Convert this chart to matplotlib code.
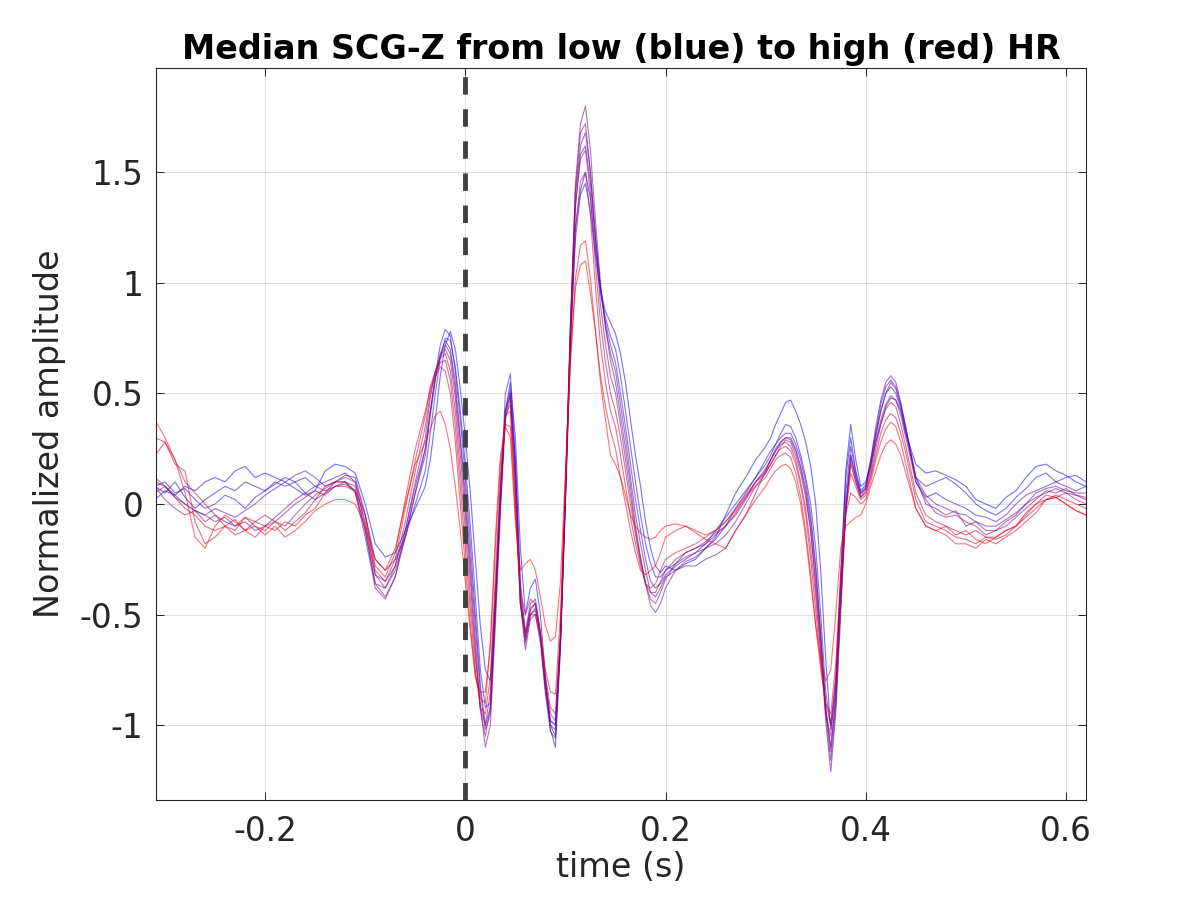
import matplotlib
matplotlib.use("Agg")
import matplotlib.pyplot as plt

# ==========================
# Time axis (s)
# ==========================

t_pre = [-0.31, -0.30, -0.29, -0.28, -0.27, -0.26, -0.25, -0.24, -0.23, -0.22,
         -0.21, -0.20, -0.19, -0.18, -0.17, -0.16, -0.15, -0.14, -0.13, -0.12,
         -0.11, -0.10, -0.09, -0.08, -0.07, -0.06, -0.05]
t_beat = [-0.04, -0.035, -0.03, -0.025, -0.02, -0.015, -0.01, -0.005, 0.0, 0.005,
          0.01, 0.015, 0.02, 0.025, 0.03, 0.035, 0.04, 0.045, 0.05, 0.055,
          0.06, 0.065, 0.07, 0.075, 0.08, 0.085, 0.09, 0.095, 0.10, 0.105,
          0.11, 0.115, 0.12, 0.125, 0.13, 0.135, 0.14, 0.145, 0.15, 0.155,
          0.16, 0.165, 0.17, 0.175, 0.18, 0.185, 0.19, 0.195, 0.20]
t_mid = [0.21, 0.22, 0.23, 0.24, 0.25, 0.26, 0.27, 0.28, 0.29, 0.30]
t_late = [0.305, 0.31, 0.315, 0.32, 0.325, 0.33, 0.335, 0.34, 0.345, 0.35,
          0.355, 0.36, 0.365, 0.37, 0.375, 0.38, 0.385, 0.39, 0.395, 0.40,
          0.405, 0.41, 0.415, 0.42, 0.425, 0.43, 0.435, 0.44]
t_tail = [0.45, 0.46, 0.47, 0.48, 0.49, 0.50, 0.51, 0.52, 0.53, 0.54,
          0.55, 0.56, 0.57, 0.58, 0.59, 0.60, 0.61, 0.62]

time_s = t_pre + t_beat + t_mid + t_late + t_tail

# ==========================
# Median SCG-Z beats, low HR -> high HR
# ==========================

scg_01 = [0.02, 0.06, 0.04, 0.08, 0.06, 0.10, 0.12, 0.10, 0.15, 0.17,
          0.12, 0.14, 0.12, 0.10, 0.07, 0.04, 0.06, 0.15, 0.18, 0.17,
          0.14, 0.00, -0.18, -0.24, -0.22, -0.12, -0.02,
          0.08, 0.20, 0.38, 0.58, 0.72, 0.78, 0.70, 0.52, 0.30, 0.05,
          -0.25, -0.55, -0.75, -0.80, -0.40, 0.05, 0.42, 0.55, 0.30, -0.20,
          -0.50, -0.38, -0.34, -0.50, -0.78, -1.02, -1.10, -0.65, 0.00, 0.70,
          1.25, 1.42, 1.50, 1.38, 1.15, 0.97, 0.87, 0.82, 0.77, 0.68,
          0.55, 0.38, 0.22, 0.08, -0.08, -0.20, -0.28, -0.31, -0.28,
          -0.30, -0.27, -0.25, -0.20, -0.15, -0.05, 0.05, 0.12, 0.20, 0.26,
          0.30, 0.36, 0.41, 0.46, 0.47, 0.42, 0.36, 0.28, 0.17, 0.00,
          -0.30, -0.70, -1.02, -0.85, -0.35, 0.15, 0.36, 0.20, 0.08, 0.10,
          0.18, 0.28, 0.36, 0.44, 0.48, 0.47, 0.42, 0.32,
          0.18, 0.14, 0.15, 0.13, 0.11, 0.08, 0.02, 0.00, -0.02, 0.03,
          0.06, 0.12, 0.17, 0.18, 0.15, 0.13, 0.10, 0.08]

scg_02 = [0.08, 0.05, 0.10, 0.03, -0.02, 0.02, 0.05, 0.08, 0.06, 0.10,
          0.08, 0.06, 0.09, 0.12, 0.10, 0.05, 0.02, 0.05, 0.10, 0.13,
          0.12, -0.05, -0.25, -0.30, -0.25, -0.15, 0.00,
          0.15, 0.32, 0.50, 0.66, 0.75, 0.74, 0.62, 0.42, 0.18, -0.10,
          -0.42, -0.75, -0.92, -0.90, -0.45, 0.02, 0.40, 0.50, 0.20, -0.35,
          -0.58, -0.45, -0.43, -0.58, -0.82, -1.00, -1.05, -0.62, 0.02, 0.72,
          1.20, 1.40, 1.45, 1.32, 1.12, 0.95, 0.84, 0.76, 0.70, 0.58,
          0.42, 0.26, 0.10, -0.05, -0.18, -0.27, -0.33, -0.33, -0.30,
          -0.27, -0.22, -0.20, -0.18, -0.12, -0.06, 0.00, 0.06, 0.12, 0.18,
          0.22, 0.27, 0.32, 0.36, 0.35, 0.30, 0.22, 0.12, 0.00, -0.20,
          -0.50, -0.85, -1.00, -0.80, -0.30, 0.12, 0.30, 0.15, 0.06, 0.09,
          0.20, 0.32, 0.42, 0.50, 0.53, 0.50, 0.43, 0.32,
          0.12, 0.08, 0.10, 0.12, 0.09, 0.05, 0.00, -0.03, -0.05, -0.02,
          0.03, 0.07, 0.12, 0.14, 0.10, 0.12, 0.13, 0.10]

scg_03 = [0.08, 0.10, 0.05, 0.07, 0.02, -0.02, 0.00, 0.04, 0.02, -0.02,
          0.03, 0.06, 0.10, 0.08, 0.10, 0.12, 0.08, 0.10, 0.12, 0.14,
          0.10, -0.10, -0.32, -0.35, -0.28, -0.12, 0.08,
          0.25, 0.42, 0.58, 0.72, 0.79, 0.76, 0.60, 0.38, 0.12, -0.18,
          -0.50, -0.82, -1.00, -0.92, -0.45, 0.05, 0.50, 0.59, 0.20, -0.40,
          -0.60, -0.48, -0.45, -0.60, -0.82, -0.98, -1.00, -0.60, 0.05, 0.78,
          1.35, 1.58, 1.62, 1.45, 1.20, 0.98, 0.82, 0.72, 0.64, 0.50,
          0.35, 0.18, 0.02, -0.12, -0.25, -0.35, -0.38, -0.36, -0.32,
          -0.28, -0.25, -0.22, -0.18, -0.14, -0.10, -0.02, 0.05, 0.12, 0.20,
          0.24, 0.27, 0.30, 0.32, 0.32, 0.27, 0.20, 0.10, -0.05, -0.28,
          -0.58, -0.92, -1.10, -0.88, -0.38, 0.05, 0.26, 0.14, 0.05, 0.07,
          0.18, 0.32, 0.45, 0.53, 0.56, 0.53, 0.45, 0.34,
          0.10, 0.03, 0.05, 0.02, 0.00, -0.02, -0.05, -0.06, -0.08, -0.05,
          0.00, 0.04, 0.06, 0.08, 0.10, 0.08, 0.06, 0.08]

scg_04 = [0.10, 0.08, 0.04, 0.00, -0.03, -0.05, -0.02, -0.04, -0.06, -0.03,
          0.00, 0.04, 0.07, 0.10, 0.13, 0.15, 0.12, 0.08, 0.10, 0.10,
          0.06, -0.12, -0.36, -0.38, -0.30, -0.15, 0.05,
          0.22, 0.40, 0.56, 0.68, 0.74, 0.70, 0.55, 0.30, 0.05, -0.25,
          -0.55, -0.85, -1.02, -0.95, -0.50, 0.00, 0.42, 0.52, 0.15, -0.42,
          -0.62, -0.50, -0.47, -0.60, -0.84, -1.00, -1.02, -0.62, 0.05, 0.80,
          1.40, 1.62, 1.68, 1.50, 1.22, 0.98, 0.80, 0.68, 0.60, 0.45,
          0.30, 0.12, -0.05, -0.18, -0.30, -0.40, -0.42, -0.38, -0.33,
          -0.30, -0.26, -0.24, -0.20, -0.16, -0.10, -0.05, 0.02, 0.10, 0.16,
          0.20, 0.25, 0.28, 0.30, 0.30, 0.25, 0.17, 0.07, -0.08, -0.30,
          -0.60, -0.95, -1.16, -0.92, -0.45, 0.00, 0.22, 0.12, 0.05, 0.08,
          0.20, 0.35, 0.47, 0.55, 0.58, 0.55, 0.46, 0.35,
          0.12, 0.04, 0.00, -0.02, -0.04, -0.05, -0.08, -0.10, -0.10, -0.07,
          -0.04, 0.00, 0.05, 0.07, 0.08, 0.06, 0.05, 0.05]

scg_05 = [0.05, 0.08, 0.03, 0.00, -0.03, -0.05, -0.08, -0.06, -0.10, -0.08,
          -0.12, -0.10, -0.06, -0.02, 0.02, 0.05, 0.08, 0.06, 0.08, 0.10,
          0.05, -0.15, -0.38, -0.43, -0.33, -0.15, 0.05,
          0.25, 0.42, 0.57, 0.67, 0.72, 0.68, 0.52, 0.28, 0.00, -0.30,
          -0.62, -0.92, -1.10, -1.00, -0.55, -0.05, 0.38, 0.48, 0.10, -0.45,
          -0.66, -0.52, -0.50, -0.63, -0.86, -1.03, -1.06, -0.65, 0.02, 0.80,
          1.45, 1.72, 1.80, 1.60, 1.28, 1.00, 0.80, 0.65, 0.55, 0.40,
          0.25, 0.08, -0.10, -0.24, -0.36, -0.46, -0.49, -0.45, -0.38,
          -0.30, -0.28, -0.28, -0.25, -0.23, -0.20, -0.12, -0.05, 0.05, 0.15,
          0.20, 0.24, 0.28, 0.30, 0.29, 0.24, 0.16, 0.05, -0.12, -0.38,
          -0.65, -0.98, -1.21, -0.95, -0.50, -0.05, 0.22, 0.12, 0.04, 0.07,
          0.17, 0.30, 0.42, 0.50, 0.55, 0.52, 0.44, 0.34,
          0.12, 0.00, -0.02, -0.05, -0.03, -0.10, -0.08, -0.12, -0.12, -0.08,
          -0.05, 0.00, 0.03, 0.05, 0.07, 0.05, 0.04, 0.02]

scg_06 = [0.08, 0.02, -0.02, -0.05, -0.03, -0.08, -0.05, -0.10, -0.07, -0.12,
          -0.08, -0.05, -0.08, -0.04, 0.00, 0.03, 0.06, 0.04, 0.08, 0.09,
          0.06, -0.12, -0.36, -0.42, -0.33, -0.12, 0.10,
          0.30, 0.48, 0.60, 0.67, 0.70, 0.65, 0.48, 0.22, -0.05, -0.35,
          -0.66, -0.93, -1.05, -0.92, -0.48, 0.00, 0.42, 0.50, 0.10, -0.45,
          -0.63, -0.50, -0.48, -0.60, -0.82, -0.98, -1.00, -0.62, 0.05, 0.82,
          1.42, 1.68, 1.72, 1.50, 1.18, 0.90, 0.72, 0.58, 0.50, 0.36,
          0.20, 0.04, -0.12, -0.25, -0.36, -0.43, -0.45, -0.40, -0.34,
          -0.27, -0.24, -0.22, -0.20, -0.18, -0.14, -0.08, 0.00, 0.08, 0.14,
          0.18, 0.22, 0.26, 0.29, 0.28, 0.22, 0.14, 0.03, -0.12, -0.35,
          -0.62, -0.92, -1.12, -0.88, -0.45, -0.02, 0.20, 0.10, 0.03, 0.06,
          0.15, 0.28, 0.38, 0.45, 0.49, 0.47, 0.40, 0.30,
          0.10, 0.02, -0.04, -0.06, -0.05, -0.08, -0.10, -0.14, -0.12, -0.10,
          -0.06, -0.02, 0.02, 0.06, 0.05, 0.07, 0.04, 0.03]

scg_07 = [0.22, 0.28, 0.20, 0.10, 0.05, 0.00, -0.05, -0.08, -0.10, -0.06,
          -0.10, -0.12, -0.08, -0.10, -0.05, 0.00, 0.04, 0.07, 0.10, 0.10,
          0.08, -0.08, -0.32, -0.38, -0.28, -0.08, 0.15,
          0.35, 0.50, 0.60, 0.66, 0.68, 0.60, 0.42, 0.15, -0.12, -0.42,
          -0.70, -0.92, -1.00, -0.85, -0.40, 0.05, 0.40, 0.45, 0.05, -0.45,
          -0.60, -0.47, -0.45, -0.58, -0.80, -0.95, -0.98, -0.60, 0.05, 0.78,
          1.35, 1.56, 1.60, 1.40, 1.08, 0.82, 0.64, 0.50, 0.42, 0.30,
          0.15, 0.00, -0.14, -0.26, -0.36, -0.40, -0.40, -0.35, -0.30,
          -0.25, -0.22, -0.20, -0.17, -0.13, -0.10, -0.04, 0.03, 0.10, 0.15,
          0.20, 0.24, 0.27, 0.28, 0.26, 0.20, 0.10, -0.02, -0.20, -0.42,
          -0.68, -0.95, -1.05, -0.82, -0.40, -0.02, 0.18, 0.10, 0.03, 0.05,
          0.13, 0.25, 0.36, 0.43, 0.46, 0.44, 0.36, 0.26,
          0.05, -0.05, -0.08, -0.10, -0.12, -0.14, -0.12, -0.15, -0.15, -0.12,
          -0.10, -0.04, 0.00, 0.04, 0.03, 0.05, 0.02, 0.00]

scg_08 = [0.12, 0.08, 0.03, -0.02, -0.05, -0.10, -0.12, -0.10, -0.14, -0.12,
          -0.15, -0.10, -0.08, -0.12, -0.08, -0.04, 0.02, 0.08, 0.10, 0.12,
          0.10, -0.05, -0.30, -0.35, -0.25, -0.02, 0.20,
          0.40, 0.53, 0.60, 0.64, 0.65, 0.56, 0.35, 0.08, -0.20, -0.48,
          -0.75, -0.92, -0.95, -0.78, -0.32, 0.12, 0.40, 0.42, 0.00, -0.45,
          -0.58, -0.50, -0.50, -0.60, -0.78, -0.92, -0.95, -0.58, 0.08, 0.75,
          1.25, 1.46, 1.50, 1.30, 0.98, 0.72, 0.55, 0.42, 0.35, 0.22,
          0.08, -0.06, -0.18, -0.28, -0.36, -0.38, -0.36, -0.30, -0.25,
          -0.22, -0.20, -0.18, -0.15, -0.12, -0.08, -0.02, 0.04, 0.10, 0.14,
          0.18, 0.22, 0.25, 0.26, 0.24, 0.18, 0.08, -0.05, -0.25, -0.48,
          -0.72, -0.90, -1.00, -0.78, -0.38, -0.04, 0.14, 0.08, 0.02, 0.04,
          0.12, 0.22, 0.32, 0.38, 0.41, 0.39, 0.32, 0.23,
          0.02, -0.08, -0.10, -0.12, -0.15, -0.16, -0.18, -0.15, -0.16, -0.14,
          -0.10, -0.06, -0.02, 0.02, 0.04, 0.02, 0.00, -0.02]

scg_09 = [0.30, 0.28, 0.18, 0.15, -0.08, -0.18, -0.15, -0.10, -0.12, -0.06,
          -0.08, -0.10, -0.12, -0.08, -0.10, -0.05, -0.02, 0.05, 0.08, 0.08,
          0.06, -0.05, -0.28, -0.33, -0.22, 0.02, 0.25,
          0.42, 0.52, 0.58, 0.62, 0.60, 0.50, 0.28, 0.00, -0.28, -0.55,
          -0.78, -0.85, -0.85, -0.65, -0.20, 0.18, 0.36, 0.35, -0.05, -0.40,
          -0.50, -0.43, -0.45, -0.58, -0.75, -0.85, -0.86, -0.50, 0.10, 0.65,
          1.02, 1.17, 1.19, 1.02, 0.78, 0.58, 0.44, 0.33, 0.25, 0.12,
          0.00, -0.12, -0.22, -0.30, -0.32, -0.30, -0.28, -0.22, -0.15,
          -0.12, -0.10, -0.12, -0.14, -0.12, -0.08, -0.03, 0.03, 0.08, 0.12,
          0.16, 0.20, 0.22, 0.23, 0.21, 0.14, 0.03, -0.12, -0.32, -0.55,
          -0.75, -0.90, -0.95, -0.72, -0.32, -0.05, 0.05, 0.03, 0.00, 0.02,
          0.10, 0.20, 0.28, 0.34, 0.37, 0.35, 0.28, 0.18,
          -0.02, -0.10, -0.12, -0.14, -0.18, -0.18, -0.20, -0.16, -0.18, -0.15,
          -0.12, -0.08, -0.04, 0.02, 0.03, 0.00, -0.03, -0.05]

scg_10 = [0.38, 0.30, 0.20, 0.05, -0.15, -0.20, -0.10, -0.05, -0.08, -0.12,
          -0.10, -0.14, -0.10, -0.15, -0.12, -0.08, -0.03, 0.00, 0.02, 0.02,
          0.00, -0.10, -0.25, -0.30, -0.20, 0.00, 0.18,
          0.28, 0.34, 0.40, 0.42, 0.36, 0.25, 0.08, -0.12, -0.35, -0.58,
          -0.78, -0.88, -0.90, -0.62, -0.15, 0.22, 0.35, 0.30, -0.08, -0.30,
          -0.27, -0.25, -0.30, -0.42, -0.55, -0.62, -0.60, -0.35, 0.15, 0.65,
          0.98, 1.08, 1.10, 0.95, 0.78, 0.55, 0.38, 0.22, 0.18, 0.12,
          0.04, -0.05, -0.10, -0.13, -0.15, -0.16, -0.15, -0.12, -0.10,
          -0.09, -0.10, -0.13, -0.16, -0.18, -0.20, -0.12, -0.05, 0.02, 0.08,
          0.12, 0.15, 0.17, 0.18, 0.16, 0.10, 0.00, -0.15, -0.35, -0.55,
          -0.70, -0.80, -0.75, -0.50, -0.20, -0.10, -0.08, -0.06, -0.05, 0.00,
          0.08, 0.15, 0.22, 0.27, 0.29, 0.27, 0.22, 0.14,
          -0.02, -0.10, -0.12, -0.10, -0.14, -0.12, -0.16, -0.18, -0.15, -0.12,
          -0.10, -0.05, 0.00, 0.02, 0.03, 0.00, -0.03, -0.05]

beats = [scg_01, scg_02, scg_03, scg_04, scg_05,
         scg_06, scg_07, scg_08, scg_09, scg_10]

# ==========================
# Plot
# ==========================

fig = plt.figure(figsize=(12, 9), dpi=100)
ax = fig.add_axes([0.13, 0.111, 0.775, 0.813])

n = len(beats)
for k, beat in enumerate(beats):
    frac = k / (n - 1)
    ax.plot(time_s, beat, color=(frac, 0, 1 - frac), lw=0.8, alpha=0.55)

ax.axvline(0, color=(0.25, 0.25, 0.25), lw=3.5, linestyle=(0, (3.6, 3.0)))

ax.set_xlim(-0.309, 0.62)
ax.set_ylim(-1.339, 1.97)
ax.set_xticks([-0.2, 0, 0.2, 0.4, 0.6])
ax.set_xticklabels(["-0.2", "0", "0.2", "0.4", "0.6"])
ax.set_yticks([-1, -0.5, 0, 0.5, 1, 1.5])
ax.set_yticklabels(["-1", "-0.5", "0", "0.5", "1", "1.5"])

dark = (0.15, 0.15, 0.15)
ax.tick_params(direction="in", length=6, width=0.7, top=True, right=True,
               labelsize=23.5, colors=dark)
ax.tick_params(axis="x", pad=11)
ax.tick_params(axis="y", pad=9)
for s in ax.spines.values():
    s.set_color(dark)
    s.set_linewidth(0.8)
ax.grid(True, color=(0.15, 0.15, 0.15), alpha=0.15, lw=0.7)
ax.set_axisbelow(True)

ax.set_xlabel("time (s)", fontsize=24, color=dark, labelpad=2)
ax.set_ylabel("Normalized amplitude", fontsize=24, color=dark, labelpad=10)
ax.set_title("Median SCG-Z from low (blue) to high (red) HR",
             fontsize=24, fontweight="bold", pad=7)

fig.savefig("out.png", dpi=100)
